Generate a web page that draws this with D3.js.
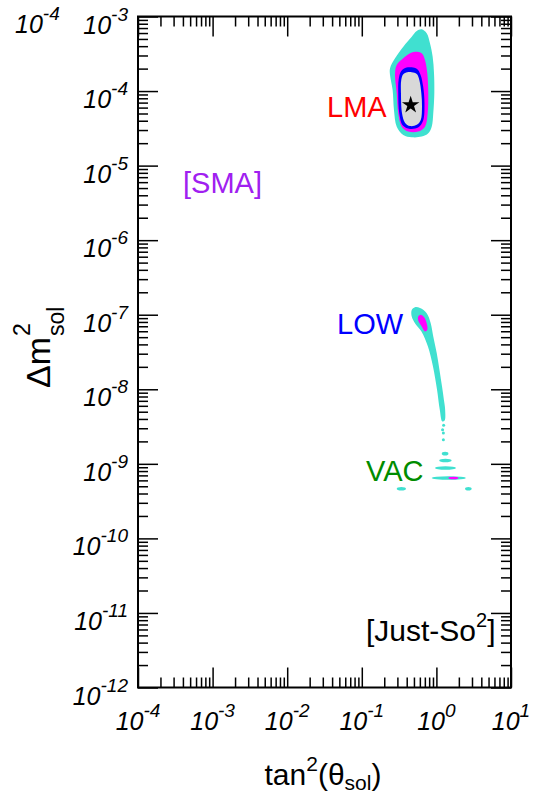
<!DOCTYPE html>
<html>
<head>
<meta charset="utf-8">
<script src="https://cdn.jsdelivr.net/npm/d3@7"></script>
<style>
  body { margin: 0; background: #fff; }
  svg { display: block; }
</style>
</head>
<body>
<svg id="chart" width="534" height="795"></svg>
<script>
// ---- axis decades (exponents of 10) ----
const xDecades = [-4, -3, -2, -1, 0, 1];
const yDecades = [-12, -11, -10, -9, -8, -7, -6, -5, -4, -3];

// ---- allowed regions in the (tan^2 theta, delta m^2) plane ----
// LMA solution
const lmaOuter = [
  [0.635, 6.73e-4], [0.741, 5.96e-4], [0.820, 4.38e-4], [0.891, 2.89e-4],
  [0.929, 1.73e-4], [0.938, 9.35e-5], [0.908, 5.04e-5], [0.865, 3.33e-5],
  [0.778, 2.72e-5], [0.635, 2.45e-5], [0.467, 2.40e-5], [0.360, 2.58e-5],
  [0.294, 3.33e-5], [0.270, 5.58e-5], [0.259, 1.03e-4], [0.239, 1.64e-4],
  [0.239, 2.02e-4], [0.279, 2.75e-4], [0.360, 3.94e-4], [0.467, 5.36e-4],
  [0.545, 6.39e-4]
];
const lma99 = [
  [0.516, 3.37e-4], [0.635, 3.21e-4], [0.703, 2.61e-4], [0.755, 1.73e-4],
  [0.778, 9.35e-5], [0.764, 5.04e-5], [0.703, 3.33e-5], [0.571, 2.86e-5],
  [0.420, 2.86e-5], [0.343, 3.33e-5], [0.308, 5.04e-5], [0.294, 9.35e-5],
  [0.279, 1.73e-4], [0.294, 2.24e-4], [0.360, 2.75e-4], [0.443, 3.21e-4]
];
const lma95 = [
  [0.467, 2.08e-4], [0.550, 1.97e-4], [0.612, 1.66e-4], [0.665, 1.15e-4],
  [0.692, 6.86e-5], [0.665, 4.02e-5], [0.575, 3.26e-5], [0.443, 3.10e-5],
  [0.355, 3.45e-5], [0.318, 5.04e-5], [0.308, 9.35e-5], [0.312, 1.43e-4],
  [0.338, 1.86e-4], [0.398, 2.07e-4]
];
const lma90 = [
  [0.467, 1.79e-4], [0.545, 1.69e-4], [0.590, 1.41e-4], [0.628, 9.35e-5],
  [0.641, 6.18e-5], [0.617, 4.10e-5], [0.545, 3.52e-5], [0.443, 3.40e-5],
  [0.379, 3.77e-5], [0.346, 5.04e-5], [0.335, 9.35e-5], [0.338, 1.41e-4],
  [0.360, 1.68e-4], [0.407, 1.79e-4]
];
const bestFit = [0.452, 6.5e-5];

// LOW solution
const lowOuter = [
  [0.467, 1.16e-7], [0.516, 1.26e-7], [0.603, 1.23e-7], [0.741, 1.05e-7],
  [0.839, 7.71e-8], [0.908, 5.11e-8], [1.01, 3.06e-8], [1.10, 1.82e-8],
  [1.19, 1.09e-8], [1.26, 7.23e-9], [1.31, 5.31e-9], [1.29, 3.8e-9],
  [1.20, 3.7e-9], [1.11, 5.31e-9], [1.02, 9.84e-9], [0.900, 2.02e-8],
  [0.770, 3.75e-8], [0.630, 5.96e-8], [0.516, 7.71e-8], [0.467, 9.46e-8]
];
const low99 = [
  [0.571, 9.46e-8], [0.617, 9.97e-8], [0.682, 9.29e-8], [0.741, 7.71e-8],
  [0.755, 6.28e-8], [0.703, 5.96e-8], [0.635, 6.95e-8], [0.571, 8.36e-8]
];
// scattered islands below the LOW tail
const lowDots = [[1.25, 3.3e-9], [1.21, 2.86e-9], [1.24, 2.59e-9], [1.24, 2.10e-9]];

// VAC islands: [tan2 from, tan2 to, delta m^2]
const vacBands = [
  [1.18, 1.45, 1.37e-9], [1.09, 1.60, 1.11e-9], [0.957, 1.83, 8.80e-10],
  [0.865, 2.49, 6.45e-10], [0.294, 0.391, 4.63e-10], [2.42, 2.97, 4.63e-10]
];
const vacBands99 = [[1.45, 1.97, 6.45e-10]];

const regionNames = ["LMA", "[SMA]", "LOW", "VAC"];

// ---- layout ----
const svg = d3.select("#chart");
const padL = 138, padR = 511, padT = 16.5, padB = 687.5;
const x = d3.scaleLog().domain([1e-4, 10]).range([padL, padR]);
const y = d3.scaleLog().domain([1e-12, 1e-3]).range([padB, padT]);

const FONT = "'Liberation Sans', Arial, Helvetica, sans-serif";
const col = {
  c3: "#40E0D0", c99: "#FF00FF", c95: "#0000FF", c90: "#D8D8D8"
};

// ---- regions ----
const area = d3.line()
  .x(d => x(d[0])).y(d => y(d[1]))
  .curve(d3.curveCatmullRomClosed.alpha(0.5));

const g = svg.append("g");
g.append("path").attr("d", area(lmaOuter)).attr("fill", col.c3);
g.append("path").attr("d", area(lma99)).attr("fill", col.c99);
g.append("path").attr("d", area(lma95)).attr("fill", col.c95);
g.append("path").attr("d", area(lma90)).attr("fill", col.c90);
g.append("path").attr("d", area(lowOuter)).attr("fill", col.c3);
g.append("path").attr("d", area(low99)).attr("fill", col.c99);

g.selectAll("circle.dot").data(lowDots).join("circle")
  .attr("class", "dot")
  .attr("cx", d => x(d[0])).attr("cy", d => y(d[1])).attr("r", 1.5)
  .attr("fill", col.c3);

function bands(data, fill, ry) {
  g.selectAll(null).data(data).join("ellipse")
    .attr("cx", d => (x(d[0]) + x(d[1])) / 2)
    .attr("rx", d => (x(d[1]) - x(d[0])) / 2)
    .attr("cy", d => y(d[2]))
    .attr("ry", ry)
    .attr("fill", fill);
}
bands(vacBands, col.c3, 1.8);
bands(vacBands99, col.c99, 1.3);

g.append("path")
  .attr("d", d3.symbol(d3.symbolStar).size(95)())
  .attr("transform", `translate(${x(bestFit[0])},${y(bestFit[1])})`)
  .attr("fill", "#000");

// ---- axes: inward ticks on all four sides ----
const minors = (decs) => {
  const out = [];
  decs.slice(0, -1).forEach(e => { for (let k = 2; k <= 9; k++) out.push(k * Math.pow(10, e)); });
  return out;
};
const xMajor = xDecades.map(e => Math.pow(10, e));
const yMajor = yDecades.map(e => Math.pow(10, e));
const xMinor = minors(xDecades);
const yMinor = minors(yDecades);

function addAxis(axis, transform) {
  const a = svg.append("g").attr("transform", transform).call(axis);
  a.select(".domain").remove();
  a.selectAll(".tick line").attr("stroke", "#000").attr("stroke-width", 1.5);
  a.selectAll(".tick text").remove();
  return a;
}
addAxis(d3.axisBottom(x).tickValues(xMajor).tickSize(-20), `translate(0,${padB})`);
addAxis(d3.axisBottom(x).tickValues(xMinor).tickSize(-10), `translate(0,${padB})`);
addAxis(d3.axisTop(x).tickValues(xMajor).tickSize(-20), `translate(0,${padT})`);
addAxis(d3.axisTop(x).tickValues(xMinor).tickSize(-10), `translate(0,${padT})`);
addAxis(d3.axisLeft(y).tickValues(yMajor).tickSize(-20), `translate(${padL},0)`);
addAxis(d3.axisLeft(y).tickValues(yMinor).tickSize(-10), `translate(${padL},0)`);
addAxis(d3.axisRight(y).tickValues(yMajor).tickSize(-20), `translate(${padR},0)`);
addAxis(d3.axisRight(y).tickValues(yMinor).tickSize(-10), `translate(${padR},0)`);

svg.append("rect")
  .attr("x", padL).attr("y", padT)
  .attr("width", padR - padL).attr("height", padB - padT)
  .attr("fill", "none").attr("stroke", "#000").attr("stroke-width", 2);

// ---- tick labels (10 with superscript exponent) ----
const TICK_FS = 25, SUP_FS = 19;
function powerLabel(sel, exp) {
  sel.attr("font-family", FONT).attr("font-style", "italic")
     .attr("font-size", TICK_FS).attr("fill", "#000");
  sel.append("tspan").text("10");
  sel.append("tspan").attr("dy", -13)
     .attr("font-size", SUP_FS).text(String(exp));
}

xDecades.forEach(e => {
  const t = svg.append("text")
    .attr("x", x(Math.pow(10, e))).attr("y", 730)
    .attr("text-anchor", "middle");
  powerLabel(t, e);
});

yDecades.forEach(e => {
  const t = svg.append("text")
    .attr("x", 128).attr("y", y(Math.pow(10, e)) + 17)
    .attr("text-anchor", "end");
  powerLabel(t, e);
});

// stray exponent label in the upper-left corner
powerLabel(svg.append("text").attr("x", 15).attr("y", 33), -4);

// ---- axis titles ----
const xt = svg.append("text")
  .attr("x", 323).attr("y", 785).attr("text-anchor", "middle")
  .attr("font-family", FONT).attr("font-size", 30).attr("fill", "#000");
xt.append("tspan").text("tan");
xt.append("tspan").attr("dy", -14).attr("font-size", 21).text("2");
xt.append("tspan").attr("dy", 14).text("(θ");
xt.append("tspan").attr("dy", 5).attr("font-size", 21).text("sol");
xt.append("tspan").attr("dy", -5).text(")");

const yt = svg.append("g").attr("transform", "translate(50,388) rotate(-90)");
const ytMain = yt.append("text")
  .attr("x", 0).attr("y", 0)
  .attr("font-family", FONT).attr("font-size", 34).attr("fill", "#000")
  .text("Δm");
const wMain = ytMain.node().getComputedTextLength();
yt.append("text").attr("x", wMain + 1).attr("y", -20)
  .attr("font-family", FONT).attr("font-size", 23).attr("fill", "#000").text("2");
yt.append("text").attr("x", wMain + 1).attr("y", 14)
  .attr("font-family", FONT).attr("font-size", 23).attr("fill", "#000").text("sol");

// ---- region names ----
function nameLabel(text, px, py, color) {
  return svg.append("text")
    .attr("x", px).attr("y", py)
    .attr("font-family", FONT).attr("font-size", 29).attr("fill", color)
    .text(text);
}
nameLabel(regionNames[0], 327, 117, "#FF0000");
nameLabel(regionNames[1], 183, 193, "#A020F0");
nameLabel(regionNames[2], 337, 334, "#0000FF");
nameLabel(regionNames[3], 366, 481, "#008C00");

const js = svg.append("text")
  .attr("x", 366).attr("y", 641)
  .attr("font-family", FONT).attr("font-size", 30).attr("fill", "#000");
js.append("tspan").text("[Just-So");
js.append("tspan").attr("dy", -14).attr("font-size", 20).text("2");
js.append("tspan").attr("dy", 14).text("]");
</script>
</body>
</html>
